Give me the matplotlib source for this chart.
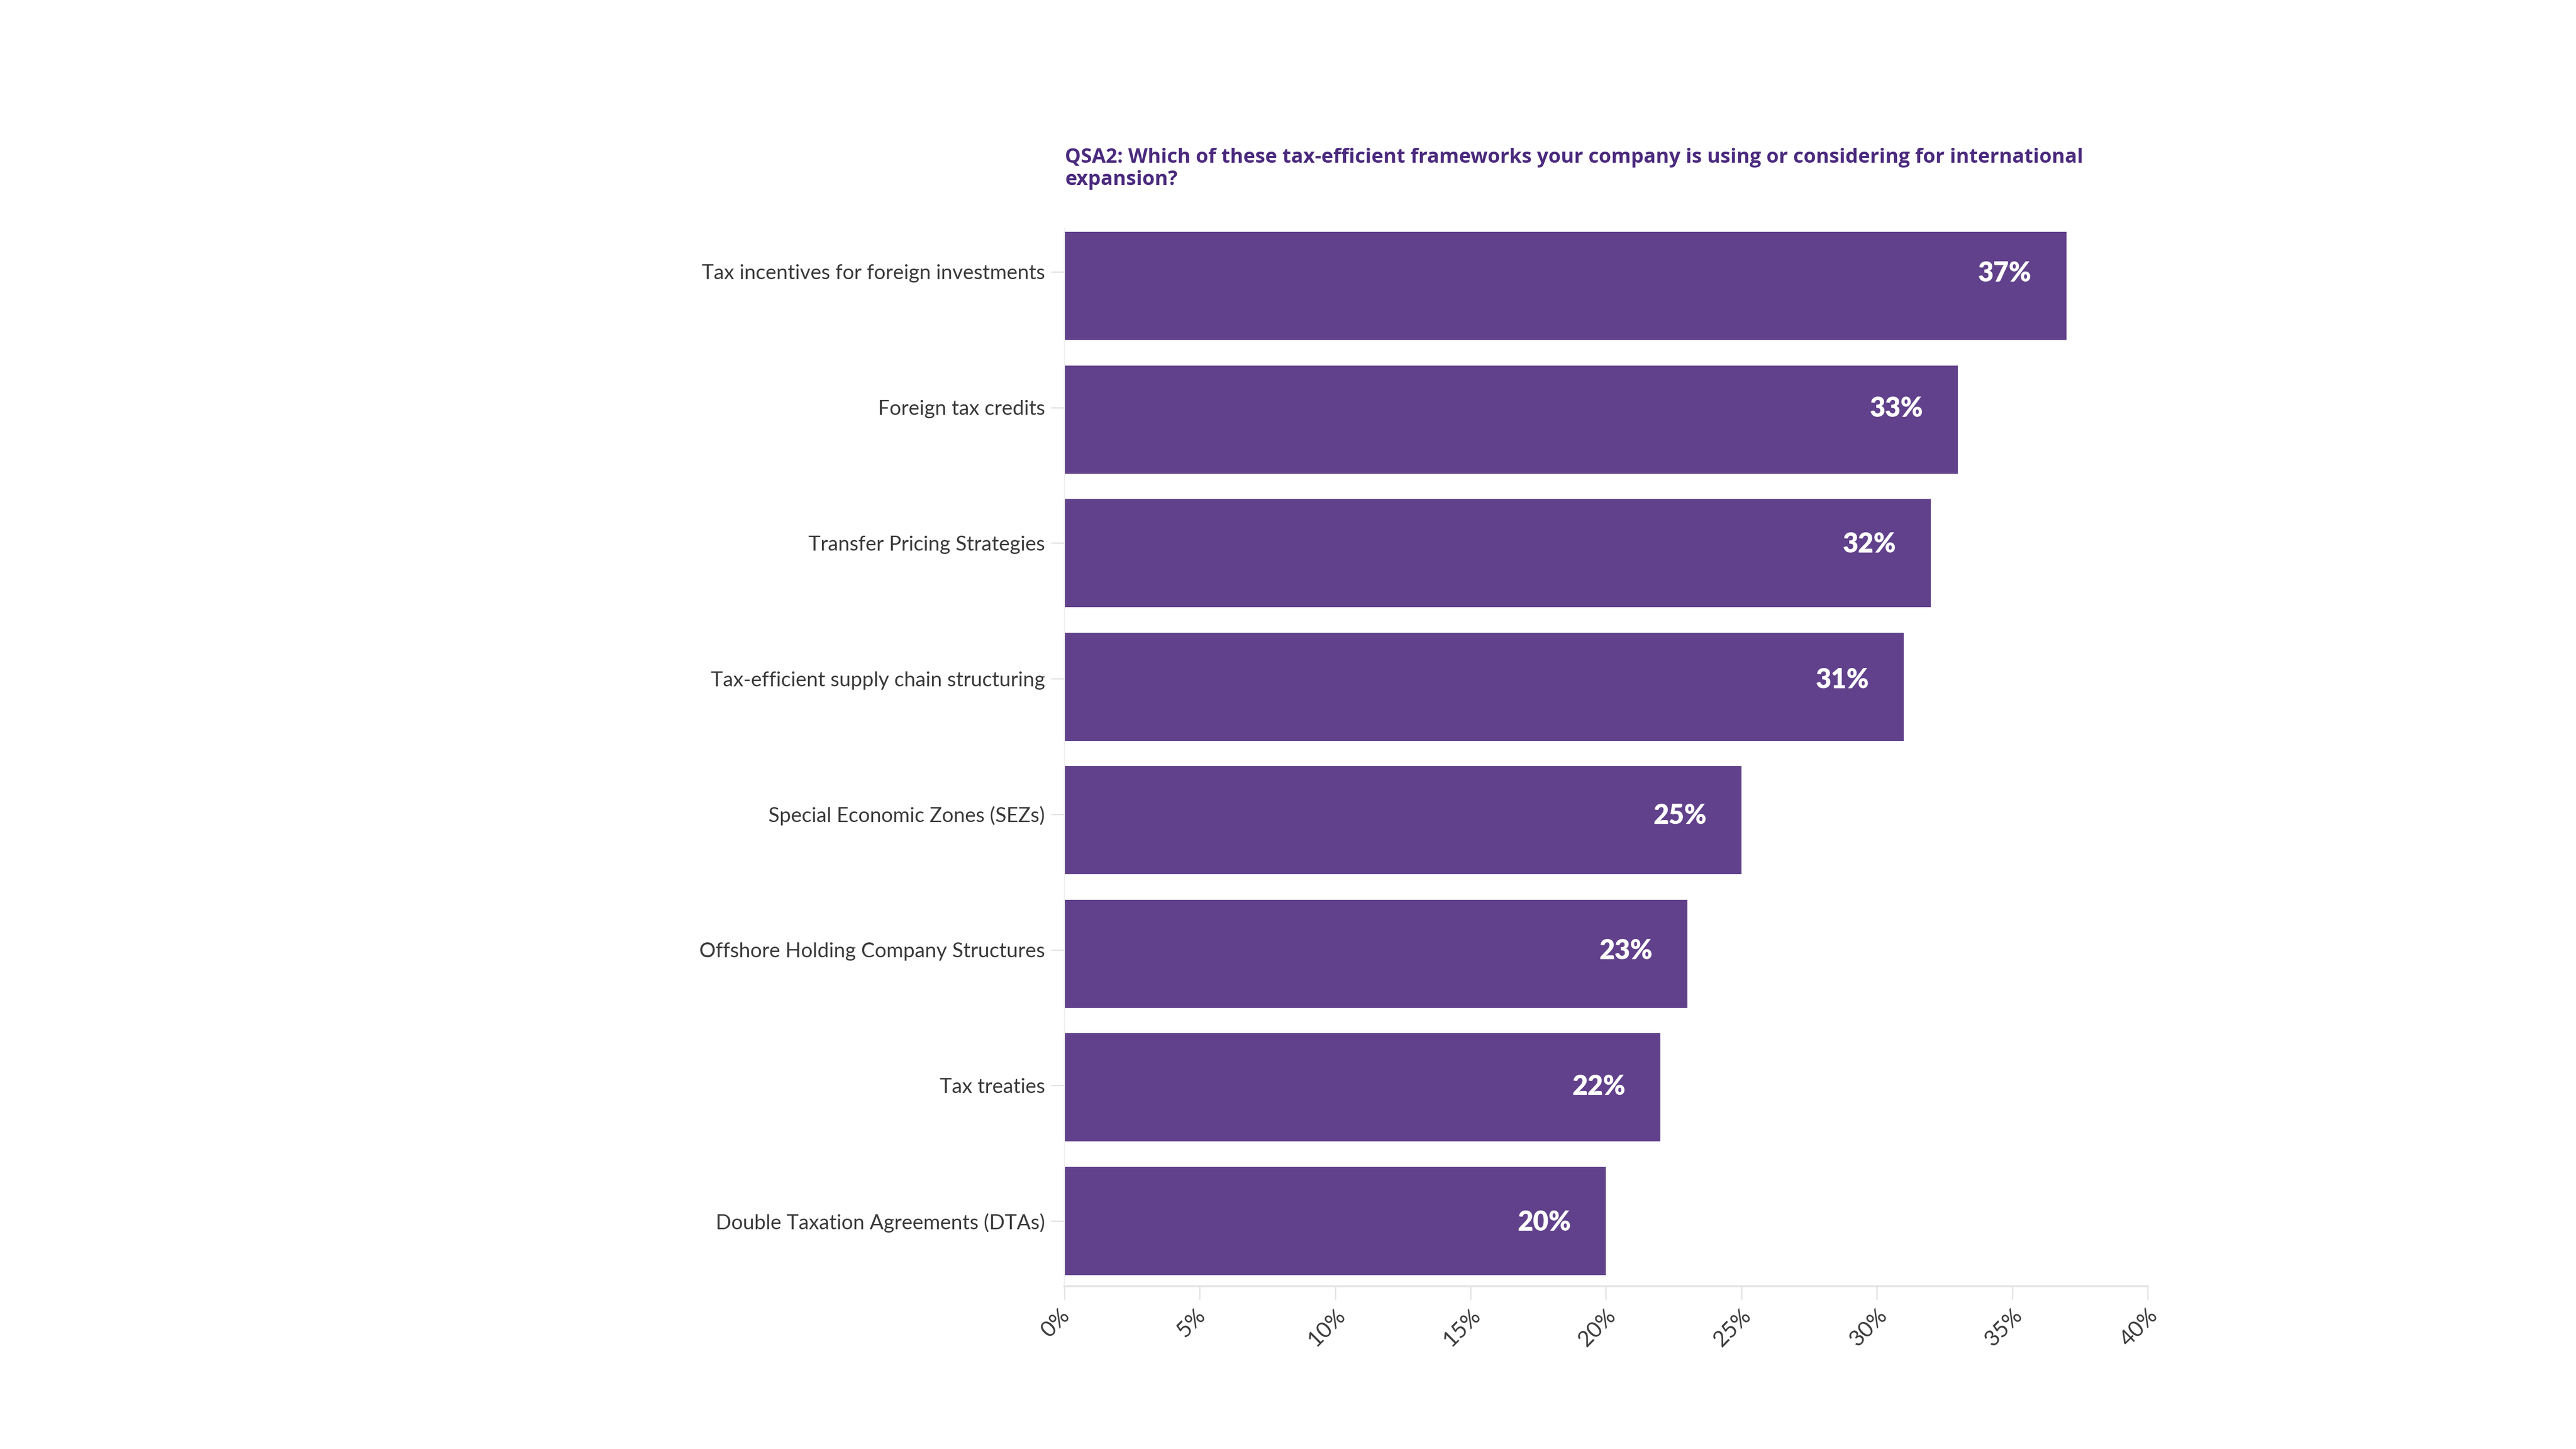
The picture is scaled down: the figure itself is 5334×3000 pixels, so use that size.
import matplotlib.pyplot as plt
import matplotlib.transforms as mtransforms
import numpy as np

# Data
categories = [
    "Tax incentives for foreign investments",
    "Foreign tax credits",
    "Transfer Pricing Strategies",
    "Tax-efficient supply chain structuring",
    "Special Economic Zones (SEZs)",
    "Offshore Holding Company Structures",
    "Tax treaties",
    "Double Taxation Agreements (DTAs)",
]
values = [37, 33, 32, 31, 25, 23, 22, 20]
xticks = [0, 5, 10, 15, 20, 25, 30, 35, 40]
title = ("QSA2: Which of these tax-efficient frameworks your company is using or considering for international\n"
         "expansion?")

bar_color = "#61418B"
title_color = "#4B2A7E"
text_color = "#3A3A3A"
grey = "#E4E4E4"

plt.rcParams['font.family'] = ['Lato', 'DejaVu Sans']

fig = plt.figure(figsize=(53.34, 30), dpi=100)
ax = fig.add_axes([0.4132, 0.1123, 0.4205, 0.730])

y = np.arange(len(categories))
ax.barh(y, values, height=0.81, color=bar_color, zorder=2)

# category ticks sit slightly off the bar centres in the original
tick_y = -0.105 + y * 1.0152
ax.set_yticks(tick_y)
ax.set_yticklabels(categories, fontsize=30.5, color=text_color)
ax.tick_params(axis='y', length=20, width=2, color=grey, pad=9)

for ty, v in zip(tick_y, values):
    ax.text(v, ty + 0.01, f"{v}%", ha='right', va='center', color='white',
            fontsize=40, fontweight='heavy',
            transform=ax.transData + mtransforms.ScaledTranslation(-72 / 100, 0, fig.dpi_scale_trans))

ax.set_xlim(0, 40)
ax.set_ylim(7.49, -0.43)
ax.set_xticks(xticks)
ax.set_xticklabels([f"{t}%" for t in xticks], fontsize=33, color=text_color, rotation=45, ha='center')
ax.tick_params(axis='x', length=20, width=2, color=grey, pad=8)
shift = mtransforms.ScaledTranslation(-18 / 100, 0, fig.dpi_scale_trans)
for lab in ax.get_xticklabels():
    lab.set_transform(lab.get_transform() + shift)

for s in ['top', 'right']:
    ax.spines[s].set_visible(False)
ax.spines['bottom'].set_color(grey)
ax.spines['bottom'].set_linewidth(3)
ax.spines['left'].set_color("#F0F0F0")
ax.spines['left'].set_linewidth(1.5)

fig.text(0.4134, 0.898, title, ha='left', va='top', fontsize=30, fontweight='bold',
         color=title_color, linespacing=1.15, family=['Open Sans', 'DejaVu Sans'])

fig.savefig("out.png", dpi=100, facecolor='white')
